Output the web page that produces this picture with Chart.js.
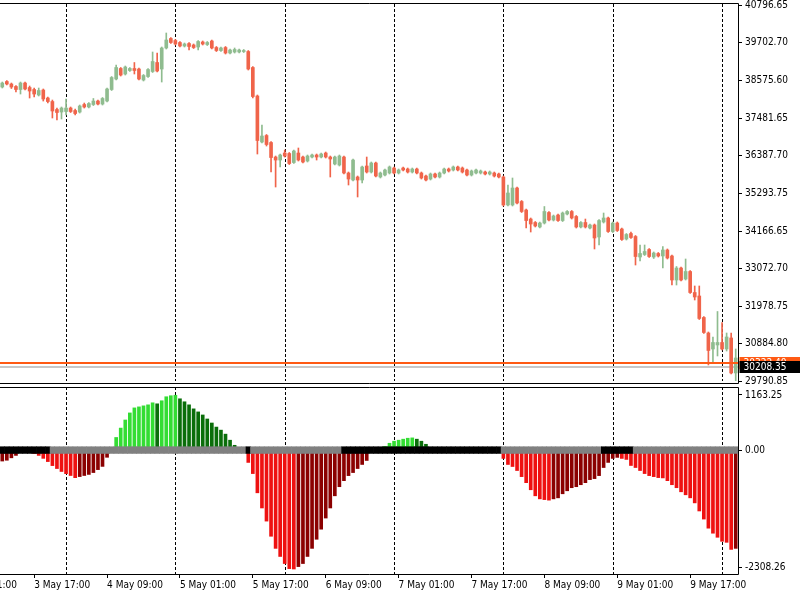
<!DOCTYPE html>
<html>
<head>
<meta charset="utf-8">
<script src="https://cdn.jsdelivr.net/npm/chart.js@4.4.0/dist/chart.umd.min.js"></script>
<style>
  html, body { margin: 0; padding: 0; background: #fff; }
  #wrap { position: relative; width: 800px; height: 600px; overflow: hidden; }
  #priceChart { position: absolute; left: 0; top: 0; }
  #squeezeChart { position: absolute; left: 0; top: 385px; }
</style>
</head>
<body>
<div id="wrap">
  <canvas id="priceChart" width="800" height="385"></canvas>
  <canvas id="squeezeChart" width="800" height="215"></canvas>
</div>
<script>
// H1 candles, 3 May 10:00 -> 10 May 03:00
const opens = [38396,38557,38484,38411,38323,38513,38381,38323,38162,38308,38074,37971,37737,37664,37679,37781,37708,37664,37884,37811,
  37884,37986,37898,37986,38323,38630,38938,38777,38879,38938,38923,38601,38703,38850,39113,38923,39538,39816,39757,39699,
  39596,39669,39626,39567,39714,39640,39743,39552,39464,39552,39391,39421,39421,39435,39435,38967,38133,36786,36976,36772,
  36347,36259,36464,36450,36186,36464,36347,36230,36347,36406,36347,36464,36347,36142,36113,36347,35879,35674,35762,35674,
  36084,35908,36172,35762,35820,35879,36025,35879,36025,35996,35908,35996,35879,35791,35703,35850,35762,35879,35996,35967,
  36055,36025,35967,35820,35879,35879,35908,35850,35879,35850,35762,34943,34943,35440,35045,34796,34532,34430,34299,34415,
  34723,34503,34649,34488,34679,34752,34606,34299,34430,34269,34357,34006,34445,34562,34167,34415,34240,33947,34108,34020,
  33420,33494,33640,33420,33523,33450,33625,33450,32747,33098,32777,32996,32381,32279,31650,31196,30728,30845,30918,30728,
  31050,30026];
const highs = [38542,38586,38513,38440,38542,38542,38425,38367,38367,38338,38103,38015,37781,37811,38045,37811,37752,37869,37927,37942,
  38060,38015,38089,38367,38703,39040,38967,39011,38967,39113,38952,38762,38938,39421,39391,39567,39977,39845,39787,39728,
  39684,39699,39655,39757,39743,39728,39772,39582,39567,39582,39509,39538,39509,39494,39464,38996,38162,37284,37006,36801,
  36376,36435,36552,36479,36552,36611,36376,36406,36435,36435,36464,36493,36376,36376,36406,36376,35908,36289,35791,36084,
  36347,36201,36201,35908,35996,36084,36055,35996,36055,36025,36025,36025,35908,35820,35879,35879,35908,36025,36025,36084,
  36084,36055,35996,35967,35996,35967,35938,35938,35908,35879,35791,35528,35733,35469,35074,34825,34562,34459,34445,34898,
  34752,34649,34679,34737,34781,34781,34635,34459,34532,34386,34386,34518,34708,34591,34445,34445,34269,34108,34152,34050,
  33772,33772,33669,33567,33552,33728,33655,33479,33142,33128,33362,33025,32572,32572,31679,31225,31079,31825,31503,31196,
  31196,30728];
const lows = [38367,38455,38352,38250,38191,38308,38074,38103,38133,37986,37927,37489,37430,37460,37577,37650,37577,37635,37781,37781,
  37854,37869,37869,37957,38294,38601,38718,38747,38850,38777,38601,38572,38674,38821,38835,38542,39509,39669,39626,39567,
  39567,39479,39523,39479,39626,39611,39509,39435,39435,39362,39362,39391,39391,39406,38894,38074,36435,36757,36669,35908,
  35469,36055,36347,36128,36157,36230,36172,36201,36318,36259,36318,36318,35762,36113,36084,35850,35528,35645,35177,35586,
  35879,35879,35762,35733,35791,35850,35850,35850,35938,35879,35879,35850,35703,35645,35674,35733,35733,35850,35908,35938,
  35938,35879,35791,35791,35850,35850,35820,35820,35762,35733,34913,34913,34913,34972,34723,34269,34152,34299,34269,34386,
  34474,34474,34459,34459,34649,34532,34269,34269,34269,34240,33655,33772,34415,34137,34137,34167,33903,33918,33962,33186,
  33303,33464,33406,33377,33420,33098,33362,32601,32601,32718,32747,32352,32162,31591,31181,30260,30347,30523,30699,30669,
  29996,29800];
const closes = [38513,38484,38396,38323,38513,38338,38279,38191,38294,38045,37971,37694,37650,37781,37781,37679,37620,37840,37811,37913,
  37986,37898,38060,38338,38674,38967,38747,38982,38938,38879,38630,38733,38908,39142,38865,39538,39772,39699,39655,39596,
  39655,39582,39552,39728,39655,39699,39538,39464,39538,39391,39479,39494,39479,39464,38923,38118,36830,36962,36713,36332,
  36259,36406,36376,36157,36523,36259,36201,36376,36406,36347,36435,36347,36289,36347,36376,35879,35703,36259,35674,36055,
  35908,36172,35791,35879,35967,36055,35879,35967,35967,35908,35996,35879,35733,35674,35850,35762,35879,35996,35938,36055,
  35967,35908,35820,35938,35967,35938,35850,35908,35791,35762,34943,35294,35440,35001,34752,34488,34386,34328,34415,34752,
  34503,34620,34488,34708,34752,34562,34299,34430,34299,34357,33977,34488,34562,34167,34415,34196,33933,34079,33991,33435,
  33523,33581,33435,33537,33450,33625,33391,32747,33098,32747,32996,32381,32250,31621,31211,30684,30918,30918,30728,31079,
  30026,30464];

// squeeze momentum histogram, one value per candle
const momentum = [-200,-185,-140,-95,-25,-10,-8,-60,-95,-150,-210,-285,-340,-395,-435,-470,-510,-490,-470,-450,
  -415,-360,-300,-130,-20,240,415,566,698,792,811,830,849,887,868,925,1000,1019,1028,962,
  906,849,774,717,660,585,510,434,377,302,189,94,20,5,-226,-434,-793,-1076,-1321,-1604,
  -1830,-1981,-2113,-2208,-2215,-2170,-2113,-1981,-1830,-1660,-1472,-1264,-1076,-849,-679,-566,-472,-415,-340,-264,
  -189,-40,-10,5,75,132,170,189,208,226,232,208,170,113,57,30,20,12,8,5,
  3,-2,-5,-8,-10,-12,-10,-8,-5,-20,-151,-264,-302,-377,-491,-604,-736,-849,-906,-920,
  -930,-906,-887,-811,-755,-698,-679,-642,-604,-547,-528,-472,-321,-226,-151,-132,-151,-170,-283,-321,
  -377,-434,-472,-491,-509,-515,-566,-642,-698,-774,-830,-887,-981,-1132,-1283,-1453,-1547,-1623,-1698,-1717,
  -1849,-1830];
// candle index ranges where the squeeze is on (black dots on the zero line)
const squeezeOn = [[0, 10], [54, 54], [75, 109], [132, 138]];

const priceTicks = [40796.65, 39702.70, 38575.60, 37481.65, 36387.70, 35293.75, 34166.65, 33072.70, 31978.75, 30884.80, 29790.85];
const momentumTicks = [1163.25, 0, -2308.26];
const timeTicks = ['3 May 17:00', '4 May 09:00', '5 May 01:00', '5 May 17:00', '6 May 09:00',
  '7 May 01:00', '7 May 17:00', '8 May 09:00', '9 May 01:00', '9 May 17:00'];
const leadTick = '3 May 01:00';
const bidPrice = 30208.35;
const askPrice = 30322.40;

const times = opens.map((_, i) => {
  const h = 10 + i;
  return (3 + Math.floor(h / 24)) + ' May ' + String(h % 24).padStart(2, '0') + ':00';
});

const FONT = { family: "'DejaVu Sans Condensed', 'Liberation Sans', sans-serif", size: 10 };
const bull = '#8FBC8F';
const bear = '#F0644A';
const askColor = '#FF5A14';

const candleColor = ctx => closes[ctx.dataIndex] >= opens[ctx.dataIndex] ? bull : bear;

function fixedWidth(scale) {
  scale.width = 62;
  scale.paddingTop = 0;
  scale.paddingBottom = 0;
}

// dashed day separators (midnight candles)
const daySeparators = {
  id: 'daySeparators',
  beforeDatasetsDraw(chart) {
    const { ctx, chartArea, scales: { x } } = chart;
    ctx.save();
    ctx.strokeStyle = '#000';
    ctx.lineWidth = 1;
    ctx.setLineDash([3, 2]);
    times.forEach((t, i) => {
      if (!t.endsWith(' 00:00')) return;
      const px = Math.round(x.getPixelForValue(i)) + 0.5;
      ctx.beginPath();
      ctx.moveTo(px, chartArea.top - 1);
      ctx.lineTo(px, chartArea.bottom);
      ctx.stroke();
    });
    ctx.restore();
  }
};

function frameLines(ctx, r, top, bottom) {
  ctx.save();
  ctx.strokeStyle = '#000';
  ctx.lineWidth = 1;
  ctx.beginPath();
  ctx.moveTo(0, top); ctx.lineTo(r, top);
  ctx.moveTo(0, bottom); ctx.lineTo(r, bottom);
  ctx.moveTo(r, top); ctx.lineTo(r, bottom);
  ctx.stroke();
  ctx.restore();
}

const priceFrame = {
  id: 'priceFrame',
  beforeDatasetsDraw(chart) {
    const { ctx, chartArea, scales: { y } } = chart;
    // bid line under the candles
    ctx.save();
    const py = Math.round(y.getPixelForValue(bidPrice));
    ctx.fillStyle = '#C8C8C8';
    ctx.fillRect(chartArea.left, py - 1, chartArea.right - chartArea.left, 2);
    ctx.restore();
  },
  afterDraw(chart) {
    const { ctx, chartArea, scales: { y } } = chart;
    const r = Math.round(chartArea.right) + 0.5;
    ctx.save();
    // ask line
    const ay = Math.round(y.getPixelForValue(askPrice));
    ctx.fillStyle = askColor;
    ctx.fillRect(chartArea.left, ay - 1, chartArea.right - chartArea.left, 2);
    ctx.restore();
    frameLines(ctx, r, 3.5, chartArea.bottom + 2.5);
    ctx.save();
    ctx.font = FONT.size + 'px ' + FONT.family;
    ctx.textBaseline = 'middle';
    [[askPrice, askColor], [bidPrice, '#000']].forEach(([v, c]) => {
      const py = Math.round(y.getPixelForValue(v));
      ctx.fillStyle = c;
      ctx.fillRect(r + 1, py - 6, 800 - r, 12);
      ctx.fillStyle = '#fff';
      ctx.fillText(v.toFixed(2), r + 5, py + 0.5);
    });
    ctx.restore();
  }
};

const squeezeFrame = {
  id: 'squeezeFrame',
  afterDraw(chart) {
    const { ctx, chartArea, scales: { x } } = chart;
    const r = Math.round(chartArea.right) + 0.5;
    frameLines(ctx, r, 2.5, chartArea.bottom + 0.5);
    // first time label, its candle lies left of the window
    const step = x.getPixelForValue(1) - x.getPixelForValue(0);
    const lx = Math.round(x.getPixelForValue(0) - 9 * step);
    ctx.save();
    ctx.font = FONT.size + 'px ' + FONT.family;
    ctx.fillStyle = '#000';
    ctx.textBaseline = 'middle';
    ctx.textAlign = 'left';
    ctx.fillText(leadTick, lx, chartArea.bottom + 4 + 1 + 6);
    ctx.restore();
  }
};

new Chart(document.getElementById('priceChart'), {
  type: 'bar',
  data: {
    labels: times,
    datasets: [
      { label: 'wick', data: lows.map((l, i) => [l, highs[i]]), backgroundColor: candleColor,
        barThickness: 1, grouped: false, order: 1 },
      { label: 'body', data: opens.map((o, i) => [o, closes[i]]), backgroundColor: candleColor,
        barThickness: 3, minBarLength: 1, grouped: false, order: 0 }
    ]
  },
  options: {
    responsive: false,
    animation: false,
    devicePixelRatio: 1,
    events: [],
    layout: { padding: { top: 5, bottom: 4, left: 0, right: 0 } },
    plugins: { legend: { display: false }, tooltip: { enabled: false } },
    scales: {
      x: { display: false, offset: true },
      y: {
        position: 'right',
        min: 29790.85,
        max: 40796.65,
        afterBuildTicks: s => { s.ticks = priceTicks.map(v => ({ value: v })); },
        afterFit: fixedWidth,
        border: { display: false },
        grid: { drawOnChartArea: false, tickLength: 4, color: '#000' },
        ticks: { padding: 3, color: '#000', font: FONT, callback: v => Number(v).toFixed(2) }
      }
    }
  },
  plugins: [daySeparators, priceFrame]
});

const isSqueeze = i => squeezeOn.some(([a, b]) => i >= a && i <= b);
const momentumColor = ctx => {
  const i = ctx.dataIndex;
  const v = momentum[i];
  const prev = i > 0 ? momentum[i - 1] : v;
  if (v >= 0) return v > prev ? '#33DD33' : '#0A6E0A';
  return v < prev ? '#EE1111' : '#8B0000';
};

new Chart(document.getElementById('squeezeChart'), {
  type: 'bar',
  data: {
    labels: times,
    datasets: [
      { label: 'squeeze', data: times.map(() => [-58, 67]),
        backgroundColor: ctx => isSqueeze(ctx.dataIndex) ? '#000' : '#808080',
        barPercentage: 1, categoryPercentage: 1, grouped: false, order: 0 },
      { label: 'momentum', data: momentum, backgroundColor: momentumColor,
        barThickness: 3, grouped: false, order: 1 }
    ]
  },
  options: {
    responsive: false,
    animation: false,
    devicePixelRatio: 1,
    events: [],
    layout: { padding: { top: 3, bottom: 0, left: 0, right: 0 } },
    plugins: { legend: { display: false }, tooltip: { enabled: false } },
    scales: {
      x: {
        offset: true,
        afterFit: s => { s.height = 26; s.paddingLeft = 0; s.paddingRight = 0; },
        border: { display: false },
        grid: {
          offset: false,
          drawOnChartArea: false,
          tickLength: 4,
          color: c => timeTicks.includes(times[c.index]) ? '#000' : 'rgba(0,0,0,0)'
        },
        ticks: {
          autoSkip: false, maxRotation: 0, minRotation: 0, align: 'start', padding: 1,
          color: '#000', font: FONT,
          callback: (v, i) => timeTicks.includes(times[i]) ? times[i] : ''
        }
      },
      y: {
        position: 'right',
        min: momentumTicks[2],
        max: momentumTicks[0],
        afterBuildTicks: s => {
          // MT4 draws the end labels a few pixels inside the window
          const inset = (s.max - s.min) * 7 / 186;
          s.ticks = [{ value: s.max - inset }, { value: 0 }, { value: s.min + inset }];
        },
        afterFit: fixedWidth,
        border: { display: false },
        grid: { drawOnChartArea: false, tickLength: 4, color: '#000' },
        ticks: { padding: 3, color: '#000', font: FONT, callback: (v, i) => momentumTicks[i].toFixed(2) }
      }
    }
  },
  plugins: [daySeparators, squeezeFrame]
});
</script>
</body>
</html>
